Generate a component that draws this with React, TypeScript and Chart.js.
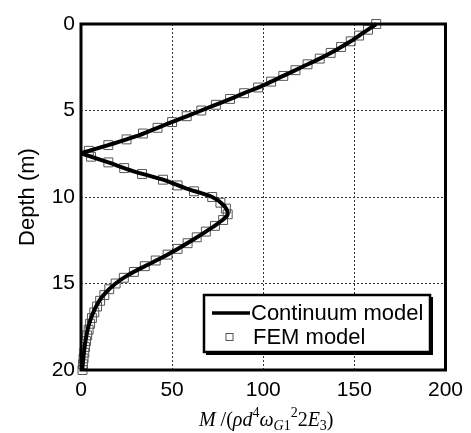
import React, { useEffect, useRef } from 'react';
import { Chart, registerables } from 'chart.js';

Chart.register(...registerables);

// Continuum model (upper branch, above zero crossing)
const upperDepth = [0, 0.5, 1, 1.5, 2, 2.5, 3, 3.5, 4, 4.5, 5, 5.5, 6, 6.5, 7, 7.47];
const upperM = [162, 155, 148, 140, 131, 121, 111, 101, 89.5, 78, 66, 54, 42, 30, 15, 0];

// Continuum model (lower branch, below zero crossing)
const lowerDepth = [7.47, 8, 8.5, 9, 9.5, 10, 10.5, 11, 11.5, 12, 12.5, 13, 13.5, 14, 14.5, 15, 15.5, 16, 16.5, 17, 17.5, 18, 18.5, 19, 19.5, 20];
const lowerM = [0, 15, 28.5, 45, 57.5, 72, 78.5, 80.5, 75.5, 68.5, 61, 53, 44.5, 35, 26, 19, 13.8, 10, 7.5, 5.5, 4, 3, 2.2, 1.6, 1.1, 0.7];

// FEM model
const femDepth = [
  0, 0.33, 0.67, 1, 1.33, 1.67, 2, 2.33, 2.67, 3, 3.33, 3.67, 4, 4.33, 4.67, 5,
  5.33, 5.67, 6, 6.33, 6.67, 7, 7.33, 7.67, 8, 8.33, 8.67, 9, 9.33, 9.67, 10,
  10.33, 10.67, 11, 11.33, 11.67, 12, 12.33, 12.67, 13, 13.33, 13.67, 14, 14.33,
  14.67, 15, 15.33, 15.67, 16, 16.33, 16.67, 17, 17.33, 17.67, 18, 18.33, 18.67,
  19, 19.33, 19.67, 20,
];
const femM = [
  162, 157.5, 152.6, 148, 142.7, 137, 131, 124.3, 117.7, 111, 104.3, 97.2, 89.5, 81.8, 74, 66,
  58, 50, 42, 34, 25, 15, 4.3, 5.5, 15, 23.7, 33.5, 45, 53, 62, 72,
  76.5, 79.5, 80.5, 78, 73.5, 68.5, 63.5, 58.5, 53, 47.5, 41, 35, 29,
  23.5, 19, 15.5, 12.8, 10.5, 8.8, 7.3, 6, 5, 4.2, 3.4, 2.8, 2.2,
  1.8, 1.4, 1.1, 0.8,
];

const xTicks = [0, 50, 100, 150, 200];
const yTicks = [0, 5, 10, 15, 20];
const legendLabels = ['Continuum model', 'FEM model'];
const yTitle = 'Depth (m)';

const SANS = "'Liberation Sans', Arial, sans-serif";
const SERIF = "'Liberation Serif', 'Times New Roman', serif";

const framePlugin = {
  id: 'frame',
  afterDatasetsDraw(chart: any) {
    const { ctx, chartArea: a } = chart;
    ctx.save();
    ctx.strokeStyle = '#000';
    ctx.lineWidth = 3;
    ctx.strokeRect(a.left, a.top, a.right - a.left, a.bottom - a.top);
    ctx.restore();
  },
};

const decorPlugin = {
  id: 'decor',
  afterDraw(chart: any) {
    const { ctx, chartArea: a } = chart;
    ctx.save();
    // Y title
    ctx.fillStyle = '#000';
    ctx.font = `22px ${SANS}`;
    ctx.textAlign = 'center';
    ctx.textBaseline = 'middle';
    ctx.translate(27.5, (a.top + a.bottom) / 2);
    ctx.rotate(-Math.PI / 2);
    ctx.fillText(yTitle, 0, 0);
    ctx.restore();

    // X title with sub/superscripts
    ctx.save();
    ctx.fillStyle = '#000';
    ctx.textBaseline = 'alphabetic';
    ctx.textAlign = 'left';
    const big = 20, sm = 14;
    const it = (s: number) => `italic ${s}px ${SERIF}`;
    const up = (s: number) => `${s}px ${SERIF}`;
    const pieces = [
      { t: 'M', f: it(big), dy: 0 },
      { t: ' /(', f: up(big), dy: 0 },
      { t: 'ρ', f: it(big), dy: 0 },
      { t: 'd', f: it(big), dy: 0 },
      { t: '4', f: up(sm), dy: -9 },
      { t: 'ω', f: it(big), dy: 0 },
      { t: 'G', f: it(sm), dy: 4 },
      { t: '1', f: up(sm), dy: 4 },
      { t: '2', f: up(sm), dy: -9 },
      { t: '2', f: up(big), dy: 0 },
      { t: 'E', f: it(big), dy: 0 },
      { t: '3', f: up(sm), dy: 4 },
      { t: ')', f: up(big), dy: 0 },
    ];
    let total = 0;
    const widths = pieces.map((p) => {
      ctx.font = p.f;
      const w = ctx.measureText(p.t).width;
      total += w;
      return w;
    });
    let x = (a.left + a.right) / 2 + 3 - total / 2;
    const base = 426;
    pieces.forEach((p, i) => {
      ctx.font = p.f;
      ctx.fillText(p.t, x, base + p.dy);
      x += widths[i];
    });
    ctx.restore();

    // Legend box
    ctx.save();
    const lx = 204, ly = 295, lw = 226, lh = 57;
    ctx.fillStyle = '#000';
    ctx.fillRect(lx + 2, ly + 2, lw + 1, lh + 1);
    ctx.fillStyle = '#fff';
    ctx.fillRect(lx, ly, lw, lh);
    ctx.strokeStyle = '#000';
    ctx.lineWidth = 2.5;
    ctx.strokeRect(lx, ly, lw, lh);
    // line sample
    ctx.beginPath();
    ctx.moveTo(212, 313);
    ctx.lineTo(250, 313);
    ctx.lineWidth = 3.5;
    ctx.stroke();
    // square sample
    ctx.lineWidth = 1;
    ctx.strokeStyle = '#555';
    ctx.strokeRect(226, 333.5, 7, 7);
    ctx.fillStyle = '#000';
    ctx.font = `22px ${SANS}`;
    ctx.textAlign = 'left';
    ctx.textBaseline = 'middle';
    ctx.fillText(legendLabels[0], 251, 314);
    ctx.fillText(legendLabels[1], 253, 338);
    ctx.restore();
  },
};

export default function App() {
  const ref = useRef<HTMLCanvasElement>(null);
  useEffect(() => {
    const canvas = ref.current!;
    const chart = new Chart(canvas, {
      type: 'scatter',
      data: {
        datasets: [
          {
            label: legendLabels[0],
            data: upperDepth.map((d, i) => ({ x: upperM[i], y: d })),
            showLine: true,
            borderColor: '#000',
            borderWidth: 4,
            pointRadius: 0,
            tension: 0.3,
            clip: false,
            order: 0,
          } as any,
          {
            label: legendLabels[0] + ' (lower)',
            data: lowerDepth.map((d, i) => ({ x: lowerM[i], y: d })),
            showLine: true,
            borderColor: '#000',
            borderWidth: 4,
            pointRadius: 0,
            tension: 0.3,
            clip: false,
            order: 0,
          } as any,
          {
            label: legendLabels[1],
            data: femDepth.map((d, i) => ({ x: femM[i], y: d })),
            showLine: false,
            pointStyle: 'rect',
            pointRadius: 6.3,
            borderColor: '#555',
            borderWidth: 1,
            backgroundColor: 'rgba(0,0,0,0)',
            clip: false,
            order: 1,
          } as any,
        ],
      },
      options: {
        responsive: false,
        animation: false,
        devicePixelRatio: 1,
        events: [],
        layout: { padding: { top: 24, right: 24, left: 0, bottom: 0 } },
        plugins: { legend: { display: false }, tooltip: { enabled: false } },
        scales: {
          x: {
            type: 'linear',
            min: 0,
            max: 200,
            afterBuildTicks: (s: any) => { s.ticks = xTicks.map((v) => ({ value: v })); },
            ticks: { color: '#000', font: { family: SANS, size: 21 }, padding: 8, maxRotation: 0 },
            grid: { color: '#333', lineWidth: 1, drawTicks: false },
            border: { display: false, dash: [2, 2] },
            afterFit: (s: any) => { s.height = 63; },
          },
          y: {
            type: 'linear',
            min: 0,
            max: 20,
            reverse: true,
            afterBuildTicks: (s: any) => { s.ticks = yTicks.map((v) => ({ value: v })); },
            ticks: { color: '#000', font: { family: SANS, size: 21 }, padding: 6 },
            grid: { color: '#333', lineWidth: 1, drawTicks: false },
            border: { display: false, dash: [2, 2] },
            afterFit: (s: any) => { s.width = 81; },
          },
        },
      } as any,
      plugins: [framePlugin, decorPlugin],
    });
    return () => chart.destroy();
  }, []);
  return (
    <div style={{ position: 'fixed', left: 0, top: 0, width: 471, height: 433, background: '#fff' }}>
      <canvas ref={ref} width={471} height={433} style={{ display: 'block', width: 471, height: 433 }} />
    </div>
  );
}
